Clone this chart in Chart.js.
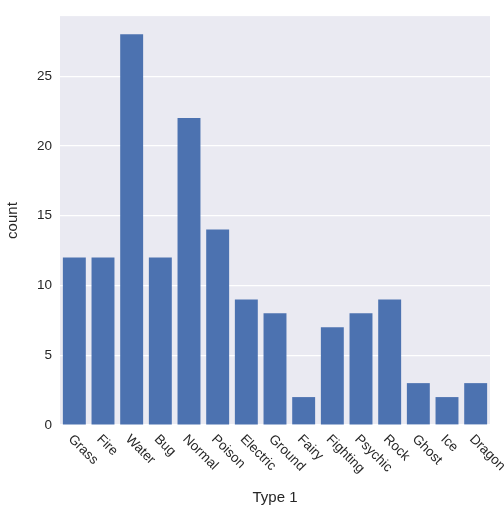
<!DOCTYPE html>
<html><head><script src="https://cdn.jsdelivr.net/npm/chart.js@4"></script>
<style>body{margin:0;background:#fff}#w{width:504px;height:517px}</style></head>
<body><div id="w"><canvas id="c"></canvas></div>
<script>
const categories=["Grass","Fire","Water","Bug","Normal","Poison","Electric","Ground","Fairy","Fighting","Psychic","Rock","Ghost","Ice","Dragon"];
const counts=[12,12,28,12,22,14,9,8,2,7,8,9,3,2,3];
const yTicks=[0,5,10,15,20,25];
const F="'Liberation Sans', Arial, sans-serif";
const bg={id:'bg',beforeDraw(ch){const a=ch.chartArea,c=ch.ctx;c.save();c.fillStyle='#EAEAF2';c.fillRect(a.left,a.top,a.right-a.left,a.bottom-a.top);c.restore();},
afterDraw(ch){const c=ch.ctx,x=ch.scales.x,a=ch.chartArea;c.save();c.font="13.5px "+F;c.fillStyle='#262626';c.textAlign='left';c.textBaseline='middle';
categories.forEach((l,i)=>{const px=x.getPixelForValue(i);c.save();c.translate(px-4,a.bottom+12);c.rotate(Math.PI/4);c.fillText(l,0,0);c.restore();});c.restore();}};
new Chart(document.getElementById('c'),{type:'bar',data:{labels:categories,datasets:[{data:counts,backgroundColor:'#4C72B0',categoryPercentage:1,barPercentage:0.8}]},
options:{responsive:true,maintainAspectRatio:false,animation:false,layout:{padding:{left:0,right:14,top:10,bottom:0}},
plugins:{legend:{display:false},tooltip:{enabled:false}},
scales:{x:{grid:{display:false},border:{display:false},ticks:{display:false},afterFit(s){s.height=92;},
title:{display:true,text:'Type 1',color:'#262626',font:{family:F,size:15},padding:{top:0,bottom:10}}},
y:{min:0,max:29.3,afterBuildTicks(s){s.ticks=yTicks.map(v=>({value:v}));},afterFit(s){s.width=60;},
grid:{color:'#fff',lineWidth:1.2,drawTicks:false},border:{display:false},
ticks:{color:'#262626',font:{family:F,size:13.5},padding:8},
title:{display:true,text:'count',color:'#262626',font:{family:F,size:15},padding:{bottom:4}}}}},plugins:[bg]});
</script></body></html>
